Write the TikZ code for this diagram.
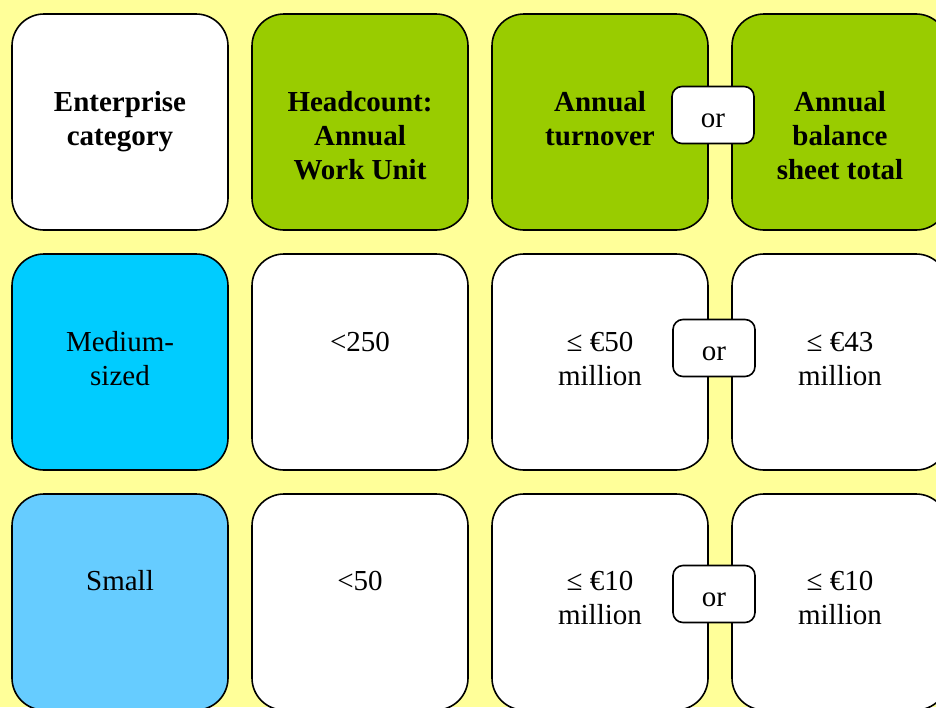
\documentclass[tikz,border=0pt]{standalone}
\usepackage{fontspec}
\setmainfont{Liberation Serif}
\definecolor{bgyellow}{RGB}{255,255,153}
\definecolor{hdgreen}{RGB}{153,204,0}
\definecolor{medcyan}{RGB}{0,204,255}
\definecolor{smallblue}{RGB}{102,204,255}
\tikzset{
  cell/.style={draw=black, line width=1.6pt, rounded corners=32pt, minimum width=216pt, minimum height=216pt, inner sep=0pt, fill=white},
  ortag/.style={draw=black, line width=1.6pt, rounded corners=10pt, minimum width=82pt, minimum height=57pt, inner sep=0pt, fill=white, text height=24pt, text depth=0pt, font=\fontsize{29}{34}\selectfont},
  lbl/.style={anchor=base, align=center, inner sep=0pt, font=\fontsize{29}{34}\selectfont},
  blbl/.style={lbl, font=\fontsize{29}{34}\selectfont\bfseries}
}
\begin{document}
\begin{tikzpicture}[x=1pt,y=-1pt]
\useasboundingbox (0,0) rectangle (936,707);
\fill[bgyellow] (0,0) rectangle (936,707);
\begin{scope}
\clip (0,0) rectangle (936,707);
% row 1
\node[cell] (c11) at (120,122) {};
\node[cell, fill=hdgreen] (c12) at (360,122) {};
\node[cell, fill=hdgreen] (c13) at (600,122) {};
\node[cell, fill=hdgreen] (c14) at (840,122) {};
% row 2
\node[cell, fill=medcyan] (c21) at (120,362) {};
\node[cell] (c22) at (360,362) {};
\node[cell] (c23) at (600,362) {};
\node[cell] (c24) at (840,362) {};
% row 3
\node[cell, fill=smallblue] (c31) at (120,602) {};
\node[cell] (c32) at (360,602) {};
\node[cell] (c33) at (600,602) {};
\node[cell] (c34) at (840,602) {};
% labels (anchor base = baseline of last line)
\node[blbl] (t11) at (120,145) {Enterprise\\category};
\node[blbl] (t12) at (360,179) {Headcount:\\Annual\\Work Unit};
\node[blbl] (t13) at (600,145) {Annual\\turnover};
\node[blbl] (t14) at (840,179) {Annual\\balance\\sheet total};
\node[lbl] (t21) at (120,385) {Medium-\\sized};
\node[lbl] (t22) at (360,351) {<250};
\node[lbl] (t23) at (600,385) {≤ €50\\million};
\node[lbl] (t24) at (840,385) {≤ €43\\million};
\node[lbl] (t31) at (120,590) {Small};
\node[lbl] (t32) at (360,590) {<50};
\node[lbl] (t33) at (600,624) {≤ €10\\million};
\node[lbl] (t34) at (840,624) {≤ €10\\million};
% or tags
\node[ortag] (or1) at (713,115) {or};
\node[ortag] (or2) at (714,348) {or};
\node[ortag] (or3) at (714,594) {or};
\end{scope}
\end{tikzpicture}
\end{document}
